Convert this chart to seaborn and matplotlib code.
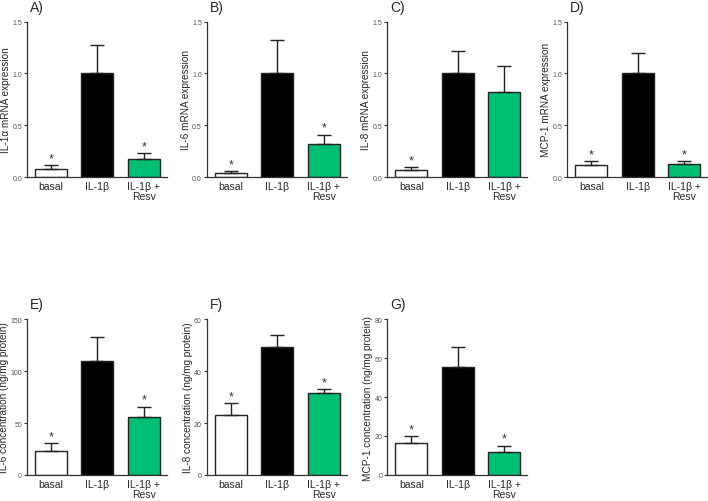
import numpy as np
import pandas as pd
import seaborn as sns
import matplotlib
matplotlib.use("Agg")
import matplotlib.pyplot as plt

# grupos
groups = ["basal", "IL-1β", "IL-1β +\nResv"]
cores = ["white", "black", "#00BF72"]

# medias
mean_il1a = [0.075, 1.0, 0.175]
mean_il6_mrna = [0.045, 1.0, 0.32]
mean_il8_mrna = [0.07, 1.0, 0.82]
mean_mcp1_mrna = [0.12, 1.0, 0.13]
mean_il6_prot = [22.9, 110.0, 55.6]
mean_il8_prot = [23.1, 49.3, 31.6]
mean_mcp1_prot = [16.6, 55.6, 11.9]

# erro (so para cima)
err_il1a = [0.045, 0.27, 0.06]
err_il6_mrna = [0.015, 0.32, 0.09]
err_il8_mrna = [0.03, 0.22, 0.25]
err_mcp1_mrna = [0.035, 0.20, 0.025]
err_il6_prot = [7.9, 22.5, 10.2]
err_il8_prot = [4.6, 4.8, 1.6]
err_mcp1_prot = [3.2, 10.2, 3.2]

# asterisco (significancia)
sig_il1a = [True, False, True]
sig_il6_mrna = [True, False, True]
sig_il8_mrna = [True, False, False]
sig_mcp1_mrna = [True, False, True]
sig_il6_prot = [True, False, True]
sig_il8_prot = [True, False, True]
sig_mcp1_prot = [True, False, True]

paineis = [
    ("A)", "IL-1α mRNA expression", mean_il1a, err_il1a, sig_il1a, [0, 0.5, 1.0, 1.5], ["0.0", "0.5", "1.0", "1.5"]),
    ("B)", "IL-6 mRNA expression", mean_il6_mrna, err_il6_mrna, sig_il6_mrna, [0, 0.5, 1.0, 1.5], ["0.0", "0.5", "1.0", "1.5"]),
    ("C)", "IL-8 mRNA expression", mean_il8_mrna, err_il8_mrna, sig_il8_mrna, [0, 0.5, 1.0, 1.5], ["0.0", "0.5", "1.0", "1.5"]),
    ("D)", "MCP-1 mRNA expression", mean_mcp1_mrna, err_mcp1_mrna, sig_mcp1_mrna, [0, 0.5, 1.0, 1.5], ["0.0", "0.5", "1.0", "1.5"]),
    ("E)", "IL-6 concentration (ng/mg protein)", mean_il6_prot, err_il6_prot, sig_il6_prot, [0, 50, 100, 150], ["0", "50", "100", "150"]),
    ("F)", "IL-8 concentration (ng/mg protein)", mean_il8_prot, err_il8_prot, sig_il8_prot, [0, 20, 40, 60], ["0", "20", "40", "60"]),
    ("G)", "MCP-1 concentration (ng/mg protein)", mean_mcp1_prot, err_mcp1_prot, sig_mcp1_prot, [0, 20, 40, 60, 80], ["0", "20", "40", "60", "80"]),
]

sns.set_style("ticks")
plt.rcParams["font.family"] = ["Liberation Sans", "DejaVu Sans"]

fig = plt.figure(figsize=(7.08, 5.02), dpi=100)

# posicoes dos eixos (fracao da figura)
lefts = [0.038, 0.292, 0.547, 0.801, 0.038, 0.292, 0.547]
bottoms = [0.645] * 4 + [0.052] * 3
w, h = 0.198, 0.31

for i, (letra, ylab, med, err, sig, yt, ytl) in enumerate(paineis):
    ax = fig.add_axes([lefts[i], bottoms[i], w, h])
    df = pd.DataFrame({"grupo": groups, "valor": med})
    sns.barplot(data=df, x="grupo", y="valor", hue="grupo", palette=cores, saturation=1,
                width=0.69, edgecolor="#222222", linewidth=1.0, legend=False, ax=ax)
    x = np.arange(len(groups))
    ax.errorbar(x, med, yerr=[np.zeros(3), err], fmt="none", ecolor="#222222",
                elinewidth=1.0, capsize=5, capthick=1.0, zorder=1)
    ymax = yt[-1]
    for xi, m, e, s in zip(x, med, err, sig):
        if s:
            ax.text(xi, m + e + ymax * 0.005, "*", ha="center", va="bottom",
                    fontsize=9, color="#333333")
    ax.set_xlim(-0.52, 2.5)
    ax.set_ylim(0, ymax)
    ax.set_yticks(yt)
    ax.set_yticklabels(ytl, fontsize=5, color="#555555")
    ax.set_xlabel("")
    ax.set_ylabel(ylab, fontsize=7.2, labelpad=1)
    ax.tick_params(axis="x", length=0, labelsize=7.5, pad=3)
    for lab in ax.get_xticklabels():
        lab.set_linespacing(0.95)
    ax.tick_params(axis="y", length=2.5, width=0.8, pad=1, color="#333333")
    for sp in ["left", "bottom"]:
        ax.spines[sp].set_color("#333333")
        ax.spines[sp].set_linewidth(0.9)
    sns.despine(ax=ax)
    ax.text(0.02, 1.05, letra, transform=ax.transAxes, fontsize=10, ha="left", va="bottom")

fig.savefig("out.png", dpi=100)
